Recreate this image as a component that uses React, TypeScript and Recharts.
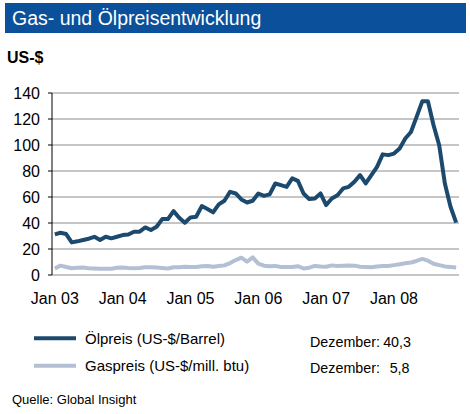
import React from 'react';
import { LineChart, Line, XAxis, YAxis, CartesianGrid } from 'recharts';

const years = ['03', '04', '05', '06', '07', '08'];
const monthNames = ['Jan', 'Feb', 'Mar', 'Apr', 'Mai', 'Jun', 'Jul', 'Aug', 'Sep', 'Okt', 'Nov', 'Dez'];

const oilPrice = [
  31.3, 32.5, 31.5, 25.1, 25.9, 26.9, 27.9, 29.4, 26.9, 29.4, 28.2, 29.4,
  30.7, 31.2, 33.3, 33.3, 36.6, 34.6, 37.1, 43.0, 43.0, 49.1, 44.0, 40.2,
  44.3, 44.8, 53.0, 50.7, 48.2, 54.3, 57.1, 64.0, 62.7, 58.1, 55.8, 57.1,
  62.7, 60.9, 62.0, 70.4, 69.1, 67.8, 74.3, 72.4, 62.7, 58.4, 58.9, 62.7,
  53.8, 58.9, 61.4, 66.6, 67.8, 71.7, 76.8, 70.4, 76.8, 83.2, 92.8, 92.2,
  93.4, 97.3, 105.0, 110.0, 121.6, 133.6, 133.6, 115.2, 99.8, 70.4, 52.5, 40.3,
];

const gasPrice = [
  5.0, 7.2, 6.2, 5.2, 5.6, 5.8, 5.2, 5.0, 4.8, 4.8, 4.8, 5.6,
  5.8, 5.4, 5.2, 5.4, 6.0, 6.0, 5.8, 5.4, 5.0, 6.0, 6.0, 6.4,
  6.2, 6.2, 6.8, 7.0, 6.4, 7.0, 7.4, 9.2, 11.5, 13.3, 10.2, 13.6,
  8.8, 7.2, 6.8, 7.0, 6.2, 6.2, 6.2, 6.8, 5.0, 5.6, 7.0, 6.6,
  6.4, 7.4, 7.0, 7.2, 7.4, 7.2, 6.4, 6.2, 6.0, 6.6, 7.0, 7.0,
  7.6, 8.2, 9.0, 9.6, 10.8, 12.4, 11.0, 8.6, 7.6, 6.6, 6.2, 5.8,
];

const yTicks = [0, 20, 40, 60, 80, 100, 120, 140];
const xLabelTicks = [0, 12, 24, 36, 48, 60];
const xBoundaryTicks = [-0.5, 11.5, 23.5, 35.5, 47.5, 59.5, 71.5];

const monthLabels = years.flatMap((y) => monthNames.map((m) => `${m} ${y}`));

const data = monthLabels.map((label, i) => ({
  idx: i,
  label,
  oil: oilPrice[i],
  gas: gasPrice[i],
}));

const OIL_COLOR = '#1c4a6e';
const GAS_COLOR = '#b3bfd3';
const FONT = '"Liberation Sans", Arial, Helvetica, sans-serif';

export default function App() {
  return (
    <div
      style={{
        position: 'absolute',
        left: 0,
        top: 0,
        width: 470,
        height: 414,
        background: '#fff',
        fontFamily: FONT,
        overflow: 'hidden',
      }}
    >
      <div style={{ position: 'absolute', left: 0, top: 0 }}>
        <LineChart
          width={470}
          height={320}
          data={data}
          margin={{ top: 93, right: 11, left: 0, bottom: 15 }}
        >
          <CartesianGrid vertical={false} stroke="#8c8c8c" strokeWidth={1} xAxisId="marks" />
          <XAxis
            xAxisId="marks"
            dataKey="idx"
            type="number"
            domain={[-0.5, 71.5]}
            ticks={xBoundaryTicks}
            tick={false}
            tickSize={5}
            height={0}
            axisLine={{ stroke: '#000' }}
            tickLine={{ stroke: '#000' }}
            allowDataOverflow
          />
          <XAxis
            xAxisId="labels"
            dataKey="idx"
            type="number"
            domain={[-0.5, 71.5]}
            ticks={xLabelTicks}
            tickFormatter={(v: number) => monthLabels[v]}
            axisLine={false}
            tickLine={false}
            tickSize={0}
            tickMargin={18}
            height={30}
            interval={0}
            tick={{ fill: '#000', fontSize: 16, fontFamily: FONT }}
            allowDataOverflow
          />
          <YAxis
            domain={[0, 140]}
            ticks={yTicks}
            width={52}
            interval={0}
            tickSize={4}
            tickMargin={8}
            axisLine={{ stroke: '#000' }}
            tickLine={{ stroke: '#000' }}
            tick={{ fill: '#000', fontSize: 16, fontFamily: FONT }}
          />
          <Line
            xAxisId="marks"
            dataKey="gas"
            stroke={GAS_COLOR}
            strokeWidth={4}
            dot={false}
            strokeLinejoin="round"
            isAnimationActive={false}
          />
          <Line
            xAxisId="marks"
            dataKey="oil"
            stroke={OIL_COLOR}
            strokeWidth={4}
            dot={false}
            strokeLinejoin="round"
            isAnimationActive={false}
          />
        </LineChart>
      </div>
      <svg
        width={470}
        height={414}
        style={{ position: 'absolute', left: 0, top: 0, pointerEvents: 'none' }}
        fontFamily={FONT}
      >
        <rect x={5} y={3} width={461} height={30} fill="#0a509a" />
        <text x={12} y={24.5} fill="#fff" fontSize={19.5}>
          Gas- und Ölpreisentwicklung
        </text>
        <text x={7} y={63.3} fill="#000" fontSize={16} fontWeight="bold">
          US-$
        </text>

        <line x1={34} y1={338.3} x2={76} y2={338.3} stroke={OIL_COLOR} strokeWidth={4} />
        <text x={85} y={344.3} fill="#000" fontSize={15}>
          Ölpreis (US-$/Barrel)
        </text>
        <line x1={34} y1={365.7} x2={76} y2={365.7} stroke={GAS_COLOR} strokeWidth={4} />
        <text x={85} y={371} fill="#000" fontSize={15}>
          Gaspreis (US-$/mill. btu)
        </text>

        <text x={310} y={346.7} fill="#000" fontSize={14.3}>
          Dezember:
        </text>
        <text x={411} y={346.7} fill="#000" fontSize={14.3} textAnchor="end">
          {String(oilPrice[oilPrice.length - 1]).replace('.', ',')}
        </text>
        <text x={310} y={372.7} fill="#000" fontSize={14.3}>
          Dezember:
        </text>
        <text x={409.5} y={372.7} fill="#000" fontSize={14.3} textAnchor="end">
          {String(gasPrice[gasPrice.length - 1]).replace('.', ',')}
        </text>

        <text x={12} y={404} fill="#000" fontSize={13}>
          Quelle: Global Insight
        </text>
      </svg>
    </div>
  );
}
